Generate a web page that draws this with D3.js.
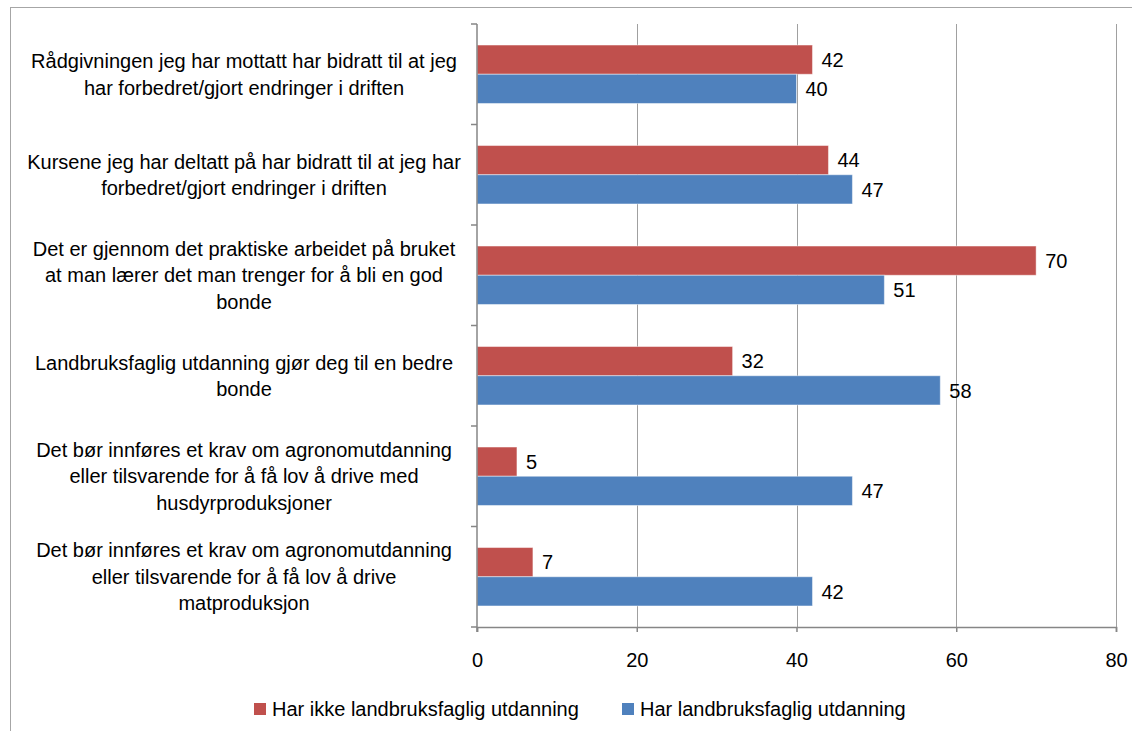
<!DOCTYPE html>
<html>
<head>
<meta charset="utf-8">
<script src="https://cdn.jsdelivr.net/npm/d3@7/dist/d3.min.js"></script>
<style>
  body { margin: 0; background: #fff; }
  svg { display: block; font-family: "Liberation Sans", Arial, sans-serif; }
</style>
</head>
<body>
<script>
// category labels, already broken into lines as in the original chart
var categories = [
  ['Rådgivningen jeg har mottatt har bidratt til at jeg', 'har forbedret/gjort endringer i driften'],
  ['Kursene jeg har deltatt på har bidratt til at jeg har', 'forbedret/gjort endringer i driften'],
  ['Det er gjennom det praktiske arbeidet på bruket', 'at man lærer det man trenger for å bli en god', 'bonde'],
  ['Landbruksfaglig utdanning gjør deg til en bedre', 'bonde'],
  ['Det bør innføres et krav om agronomutdanning', 'eller tilsvarende for å få lov å drive med', 'husdyrproduksjoner'],
  ['Det bør innføres et krav om agronomutdanning', 'eller tilsvarende for å få lov å drive', 'matproduksjon']
];
var seriesNames = ['Har ikke landbruksfaglig utdanning', 'Har landbruksfaglig utdanning'];
var seriesColors = ['#C0504D', '#4F81BD'];
var ikkeUtdanning = [42, 44, 70, 32, 5, 7];
var medUtdanning = [40, 47, 51, 58, 47, 42];
var xTicks = [0, 20, 40, 60, 80];

var W = 1132, H = 731;
var margin = {top: 24, right: 16, bottom: 104, left: 477};
var fs = 20;

var svg = d3.select('body').append('svg')
    .attr('width', W)
    .attr('height', H);

// outer chart border (runs off the right and bottom of the picture)
svg.append('rect')
    .attr('x', 10.5).attr('y', 7.5)
    .attr('width', W + 20).attr('height', H + 20)
    .attr('fill', 'none')
    .attr('stroke', '#a6a6a6')
    .attr('stroke-width', 1);

var x = d3.scaleLinear().domain([0, 80]).range([margin.left, W - margin.right]);
var y = d3.scaleBand().domain(d3.range(categories.length))
    .range([margin.top, H - margin.bottom])
    .paddingInner(0).paddingOuter(0);
var inner = d3.scaleBand().domain([0, 1])
    .range([0, y.bandwidth()])
    .paddingOuter(0.72).paddingInner(0);

// gridlines
svg.append('g').selectAll('line')
    .data(xTicks.slice(1))
    .enter().append('line')
    .attr('x1', function (d) { return Math.round(x(d)) + 0.5; })
    .attr('x2', function (d) { return Math.round(x(d)) + 0.5; })
    .attr('y1', margin.top)
    .attr('y2', H - margin.bottom)
    .attr('stroke', '#a0a0a0')
    .attr('stroke-width', 1);

// bars
var data = [];
categories.forEach(function (c, i) {
  data.push({cat: i, s: 0, v: ikkeUtdanning[i]});
  data.push({cat: i, s: 1, v: medUtdanning[i]});
});

svg.append('g').selectAll('rect')
    .data(data)
    .enter().append('rect')
    .attr('x', x(0))
    .attr('y', function (d) { return y(d.cat) + inner(d.s); })
    .attr('width', function (d) { return x(d.v) - x(0); })
    .attr('height', inner.bandwidth())
    .attr('fill', function (d) { return seriesColors[d.s]; })
    .attr('stroke', 'rgba(255,255,255,0.45)')
    .attr('stroke-width', 1);

// value labels
svg.append('g').selectAll('text')
    .data(data)
    .enter().append('text')
    .attr('x', function (d) { return x(d.v) + 9; })
    .attr('y', function (d) { return y(d.cat) + inner(d.s) + inner.bandwidth() / 2; })
    .attr('dy', '0.36em')
    .attr('font-size', fs)
    .attr('fill', '#000')
    .text(function (d) { return d.v; });

// x axis
var xAxis = d3.axisBottom(x).tickValues(xTicks).tickSize(5).tickPadding(21);
var gx = svg.append('g')
    .attr('transform', 'translate(0,' + (H - margin.bottom) + ')')
    .call(xAxis);
gx.select('.domain').attr('stroke', '#868686').attr('stroke-width', 1.5);
gx.selectAll('.tick line').attr('stroke', '#868686').attr('stroke-width', 1.5);
gx.selectAll('.tick text')
    .attr('font-size', fs)
    .attr('font-family', null)
    .attr('fill', '#000');

// y axis (multi-line labels drawn separately below)
var yTickPos = d3.range(categories.length + 1).map(function (i) {
  return i < categories.length ? y(i) : y(i - 1) + y.bandwidth();
});
var gy = svg.append('g');
gy.append('line')
    .attr('x1', margin.left).attr('x2', margin.left)
    .attr('y1', margin.top).attr('y2', H - margin.bottom + 5)
    .attr('stroke', '#868686').attr('stroke-width', 1.5);
gy.selectAll('.tk')
    .data(yTickPos)
    .enter().append('line')
    .attr('class', 'tk')
    .attr('x1', margin.left - 6).attr('x2', margin.left)
    .attr('y1', function (d) { return d; })
    .attr('y2', function (d) { return d; })
    .attr('stroke', '#868686').attr('stroke-width', 1.5);

var lineH = 26.5;
var catLabels = svg.append('g').selectAll('text')
    .data(categories)
    .enter().append('text')
    .attr('text-anchor', 'middle')
    .attr('font-size', fs)
    .attr('fill', '#000')
    .attr('transform', function (d, i) {
      var cy = y(i) + y.bandwidth() / 2 - (d.length - 1) * lineH / 2;
      return 'translate(244,' + cy + ')';
    });
catLabels.selectAll('tspan')
    .data(function (d) { return d; })
    .enter().append('tspan')
    .attr('x', 0)
    .attr('y', function (d, i) { return i * lineH; })
    .attr('dy', '0.36em')
    .text(function (d) { return d; });

// legend
var legendX = [254, 622];
var legend = svg.append('g').selectAll('g')
    .data(seriesNames)
    .enter().append('g')
    .attr('transform', function (d, i) { return 'translate(' + legendX[i] + ',703)'; });
legend.append('rect')
    .attr('width', 12).attr('height', 12)
    .attr('fill', function (d, i) { return seriesColors[i]; });
legend.append('text')
    .attr('x', 18).attr('y', 6)
    .attr('dy', '0.36em')
    .attr('font-size', fs)
    .attr('fill', '#000')
    .text(function (d) { return d; });
</script>
</body>
</html>
